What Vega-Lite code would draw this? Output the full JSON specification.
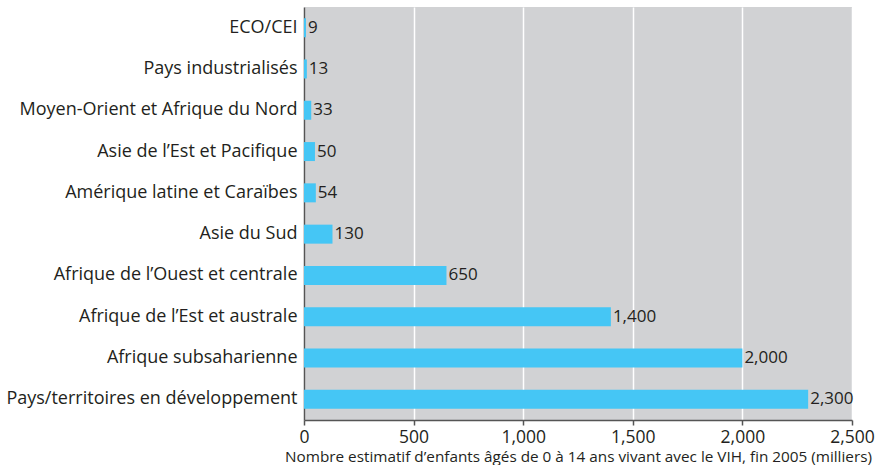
{
  "$schema": "https://vega.github.io/schema/vega-lite/v6.json",
  "width": 548,
  "height": 413,
  "autosize": {"type": "none"},
  "padding": {"left": 304, "top": 7, "right": 31, "bottom": 45},
  "background": "white",
  "config": {
    "view": {"fill": "#d1d2d4", "stroke": null},
    "font": "Open Sans"
  },
  "data": {
    "values": [
      {"region": "ECO/CEI", "value": 9, "label": "9"},
      {"region": "Pays industrialisés", "value": 13, "label": "13"},
      {"region": "Moyen-Orient et Afrique du Nord", "value": 33, "label": "33"},
      {"region": "Asie de l’Est et Pacifique", "value": 50, "label": "50"},
      {"region": "Amérique latine et Caraïbes", "value": 54, "label": "54"},
      {"region": "Asie du Sud", "value": 130, "label": "130"},
      {"region": "Afrique de l’Ouest et centrale", "value": 650, "label": "650"},
      {"region": "Afrique de l’Est et australe", "value": 1400, "label": "1,400"},
      {"region": "Afrique subsaharienne", "value": 2000, "label": "2,000"},
      {"region": "Pays/territoires en développement", "value": 2300, "label": "2,300"}
    ]
  },
  "encoding": {
    "y": {
      "field": "region",
      "type": "nominal",
      "sort": null,
      "scale": {"paddingInner": 0.54, "paddingOuter": 0.27},
      "axis": {
        "title": null,
        "ticks": false,
        "labelFontSize": 18,
        "labelColor": "#231f20",
        "labelPadding": 7,
        "domainColor": "#555555",
        "domainWidth": 1.5,
        "labelLimit": 400
      }
    },
    "x": {
      "field": "value",
      "type": "quantitative",
      "scale": {"domain": [0, 2500], "nice": false},
      "axis": {
        "values": [0, 500, 1000, 1500, 2000, 2500],
        "format": ",d",
        "labelFlush": false,
        "title": "Nombre estimatif d’enfants âgés de 0 à 14 ans vivant avec le VIH, fin 2005 (milliers)",
        "titleFontSize": 15.3,
        "titleFontWeight": "normal",
        "titleColor": "#231f20",
        "titlePadding": 4,
        "labelFontSize": 17.5,
        "labelColor": "#231f20",
        "labelPadding": 3,
        "domainColor": "#555555",
        "domainWidth": 1.5,
        "tickColor": "#555555",
        "tickSize": 5,
        "tickWidth": 1.5,
        "gridColor": "white",
        "gridWidth": 1.5,
        "gridOpacity": 1
      }
    }
  },
  "layer": [
    {"mark": {"type": "bar", "color": "#45c6f5"}},
    {
      "mark": {"type": "text", "align": "left", "baseline": "middle", "dx": 2, "fontSize": 17, "color": "#231f20"},
      "encoding": {"text": {"field": "label"}}
    }
  ]
}
